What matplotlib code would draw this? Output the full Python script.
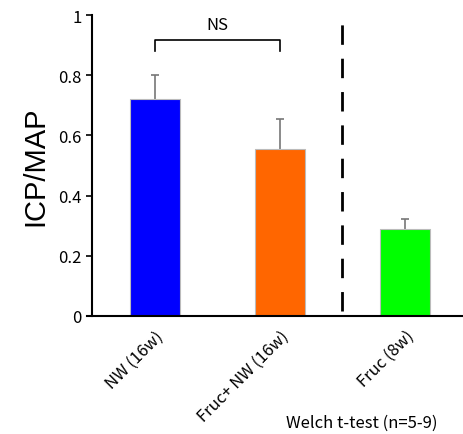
import matplotlib
matplotlib.use("Agg")
import matplotlib.pyplot as plt

plt.rcParams["font.family"] = ["Noto Sans CJK JP", "DejaVu Sans"]

groups = ["NW (16w)", "Fruc+ NW (16w)", "Fruc (8w)"]
means = [0.72, 0.555, 0.29]
errors = [0.08, 0.10, 0.033]
colors = ["#0000FF", "#FF6600", "#00FF00"]
yticks = [0, 0.2, 0.4, 0.6, 0.8, 1]
ytick_labels = ["0", "0.2", "0.4", "0.6", "0.8", "1"]

fig = plt.figure(figsize=(4.63, 4.35), dpi=100)
ax = fig.add_axes([0.1987, 0.2713, 0.8013, 0.6919])

x = list(range(len(groups)))
ax.bar(x, means, width=0.4, color=colors, edgecolor="#bbbbbb", linewidth=0.8, zorder=2)
# symmetric bars drawn behind the columns, so only the upper half shows
ax.errorbar(x, means, yerr=errors, fmt="none",
            ecolor="#777777", elinewidth=1.2, capsize=3, capthick=1.2, zorder=1)

ax.set_xlim(-0.504, 2.464)
ax.set_ylim(0, 1)
ax.set_yticks(yticks)
ax.set_yticklabels(ytick_labels, fontsize=12)
ax.set_xticks(x)
ax.set_xticklabels(groups, rotation=45, ha="right", rotation_mode="anchor", fontsize=12)
ax.tick_params(axis="x", length=0, pad=8)
ax.tick_params(axis="y", direction="out", length=4, width=1.2)

for side in ["top", "right"]:
    ax.spines[side].set_visible(False)
ax.spines["left"].set_linewidth(1.5)
ax.spines["bottom"].set_linewidth(1.5)
ax.spines["bottom"].set_bounds(-0.54, 2.464)

ax.set_ylabel("ICP/MAP", fontsize=21, family="Liberation Sans", labelpad=6)

# separator between 16w and 8w groups
ax.plot([1.5, 1.5], [0.017, 1.01], color="black", linewidth=2, dashes=(7, 5), clip_on=False)

# significance bracket
ax.plot([0, 0, 1, 1], [0.88, 0.917, 0.917, 0.88], color="black", linewidth=1.2)
ax.text(0.5, 0.94, "NS", ha="center", va="bottom", fontsize=12)

fig.text(0.945, 0.008, "Welch t-test (n=5-9)", ha="right", va="bottom", fontsize=12)

fig.savefig("out.png", dpi=100)
